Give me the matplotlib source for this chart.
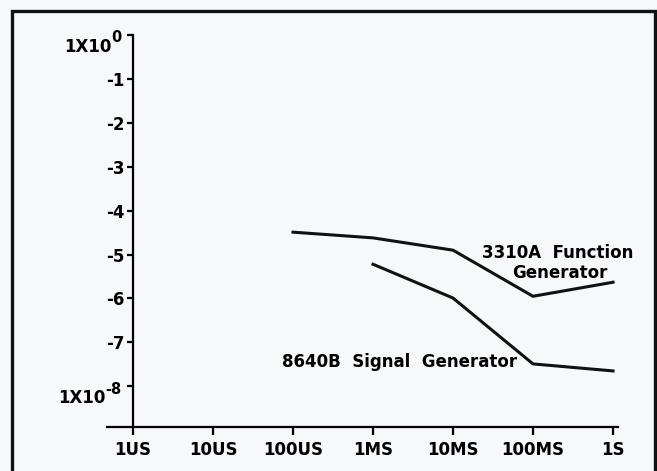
import matplotlib
matplotlib.use('Agg')
from matplotlib import pyplot as plt
from matplotlib.patches import Rectangle

# time axis: log10(seconds), labels 1US .. 1S
tick_pos = [-6, -5, -4, -3, -2, -1, 0]
tick_labels = ['1US', '10US', '100US', '1MS', '10MS', '100MS', '1S']

# fractional frequency stability, log10 values
y_ticks = [0, -1, -2, -3, -4, -5, -6, -7, -8]
y_labels = ['', '-1', '-2', '-3', '-4', '-5', '-6', '-7', '']
# the two end labels are written as 1X10 with a superscript
y_sup = {0: '0', -8: '-8'}

fn_x = [-4, -3, -2, -1, 0]
fn_y = [-4.49, -4.62, -4.90, -5.95, -5.63]

sg_x = [-3, -2, -1, 0]
sg_y = [-5.22, -5.99, -7.49, -7.65]

plt.rcParams['font.family'] = 'DejaVu Sans'
plt.rcParams['font.weight'] = 'bold'

bg = '#f6f8fb'
fig = plt.figure(figsize=(6.57, 4.71), dpi=100, facecolor=bg)

# scanned frame round the chart
fig.patches.append(Rectangle((12 / 657, -0.05), (655 - 12) / 657, 0.05 + 1 - 11 / 471,
                             transform=fig.transFigure, fill=False,
                             edgecolor='#111111', linewidth=2.4))

ax = fig.add_axes([107 / 657, 1 - 426.7 / 471, (618 - 107) / 657, (426.7 - 35) / 471])
ax.set_facecolor(bg)
ax.set_xlim(-6.325, 0.0625)
ax.set_ylim(-8.92, 0)

ax.plot(fn_x, fn_y, color='#111111', linewidth=2.2, solid_joinstyle='miter')
ax.plot(sg_x, sg_y, color='#111111', linewidth=2.2, solid_joinstyle='miter')

ax.text(-0.69, -4.97, '3310A  Function', ha='center', va='center', fontsize=12)
ax.text(-0.66, -5.42, 'Generator', ha='center', va='center', fontsize=12)
ax.text(-4.14, -7.45, '8640B  Signal  Generator', ha='left', va='center', fontsize=12)

for s in ['top', 'right']:
    ax.spines[s].set_visible(False)
ax.spines['left'].set_position(('data', -6))
ax.spines['left'].set_bounds(-8.92, 0)
ax.spines['left'].set_linewidth(1.6)
ax.spines['bottom'].set_linewidth(1.6)

ax.set_xticks(tick_pos)
ax.set_xticklabels(tick_labels, fontsize=12)
ax.set_yticks(y_ticks)
ax.set_yticklabels(y_labels, fontsize=12)
ax.tick_params(axis='x', direction='out', length=6, width=1.6, pad=4)
ax.tick_params(axis='y', direction='out', length=4, width=1.6, pad=2)

for yv, sup in y_sup.items():
    st = ax.annotate(sup, xy=(-6, yv), xytext=(-8, -2), textcoords='offset points',
                     ha='right', va='center', fontsize=10.5, annotation_clip=False)
    ax.annotate('1X10', xy=(0, 0), xycoords=st, xytext=(0, -7.5),
                textcoords='offset points', ha='right', va='bottom', fontsize=12,
                annotation_clip=False)

fig.savefig('out.png', dpi=100, facecolor=bg)
